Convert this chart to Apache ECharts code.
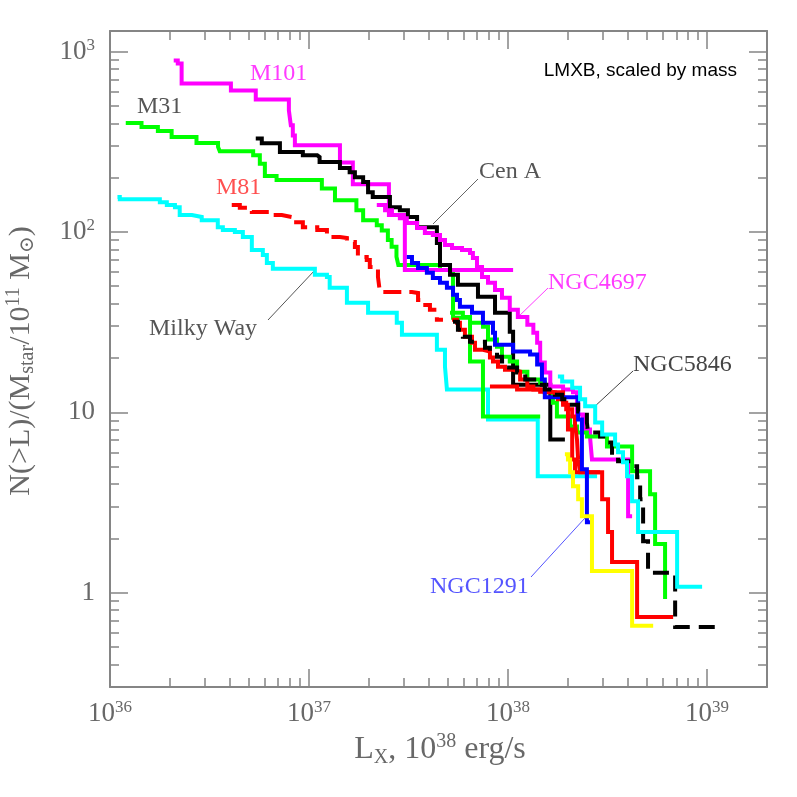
<!DOCTYPE html>
<html>
<head>
<meta charset="utf-8">
<title>LMXB luminosity functions, scaled by mass</title>
<script src="https://cdn.jsdelivr.net/npm/echarts@6/dist/echarts.min.js"></script>
<style>
  html, body { margin: 0; padding: 0; background: #fff; }
  #chart { width: 797px; height: 797px; }
</style>
</head>
<body>
<div id="chart"></div>
<script>
// cumulative LMXB luminosity functions N(>L) per 1e11 Msun
// x = L_X in erg/s, y = N(>L)/(M_star/1e11 M_sun); drawn as 'end' steps

const m101L = [2.09e36, 2.19e36, 2.29e36, 4.05e36, 5.40e36, 7.92e36, 8.10e36, 8.29e36, 8.49e36, 1.43e37, 1.66e37, 2.52e37, 3.03e37, 1.06e38]
const m101N = [891, 859, 665, 608, 543, 472, 390, 343, 302, 243, 184, 124, 61.6, 61.6]

const m31L = [1.20e36, 1.44e36, 1.74e36, 2.04e36, 2.72e36, 3.49e36, 3.56e36, 5.24e36, 5.66e36, 6.00e36, 6.87e36, 1.16e37, 1.35e37, 1.73e37, 1.87e37, 2.19e37, 2.32e37, 2.49e37, 2.60e37, 2.75e37, 2.81e37, 4.55e37, 5.29e37, 6.44e37, 7.48e37, 1.45e38]
const m31N = [402, 382, 363, 336, 311, 296, 280, 266, 239, 204, 194, 174, 150, 132, 116, 109, 102, 90.2, 82.8, 72.9, 65.6, 61.6, 33.4, 19.1, 9.48, 9.48]

const milkyWayL = [1.09e36, 1.12e36, 1.78e36, 1.93e36, 2.12e36, 2.24e36, 2.58e36, 2.89e36, 3.48e36, 3.69e36, 4.24e36, 4.65e36, 5.16e36, 5.86e36, 6.14e36, 6.58e36, 1.07e37, 1.23e37, 1.27e37, 1.55e37, 1.98e37, 2.76e37, 2.93e37, 4.39e37, 4.82e37, 4.93e37, 7.93e37, 1.41e38, 2.80e38]
const milkyWayN = [156, 152, 146, 141, 137, 124, 121, 116, 106, 102.5, 99.9, 93.7, 79.4, 74.5, 67.3, 62.4, 57.8, 56.3, 49.0, 40.5, 35.6, 31.4, 26.9, 22.2, 17.9, 13.4, 9.13, 4.42, 4.42]

const m81L = [4.09e36, 4.49e36, 5.16e36, 6.50e36, 7.30e36, 8.20e36, 9.31e36, 1.10e37, 1.23e37, 1.43e37, 1.55e37, 1.70e37, 1.76e37, 1.95e37, 2.02e37, 2.22e37, 2.27e37, 3.29e37, 3.53e37, 3.69e37, 4.05e37, 4.39e37, 4.71e37]
const m81N = [141, 136, 129, 124, 121, 113, 106, 102.5, 93.7, 92.5, 88.0, 82.5, 72.6, 69.9, 64.0, 56.3, 46.5, 45.9, 42.0, 39.4, 37.0, 32.6, 32.6]

const cenAL = [5.40e36, 5.79e36, 7.14e36, 9.31e36, 1.10e37, 1.13e37, 1.43e37, 1.60e37, 1.70e37, 1.87e37, 1.98e37, 2.09e37, 2.55e37, 2.86e37, 3.14e37, 3.49e37, 4.39e37, 4.55e37, 5.11e37, 5.60e37, 7.06e37, 8.60e37, 1.02e38, 1.06e38, 1.63e38, 1.93e38]
const cenAN = [330, 310, 277, 266, 260, 244, 226, 214, 201, 189, 166, 156, 137, 132, 121, 106, 86.8, 65.6, 57.8, 50.9, 43.7, 35.6, 28.0, 14.2, 7.07, 7.07]

const ngc4697L = [2.19e37, 2.41e37, 2.61e37, 2.86e37, 3.10e37, 3.49e37, 3.82e37, 4.19e37, 4.55e37, 4.82e37, 5.23e37, 5.87e37, 6.44e37, 6.66e37, 6.98e37, 7.40e37, 7.93e37, 8.60e37, 9.32e37, 1.02e38, 1.12e38, 1.25e38, 1.34e38, 1.40e38, 1.45e38, 1.53e38, 1.63e38, 1.89e38, 2.12e38, 2.22e38, 2.38e38, 2.58e38, 2.64e38, 4.01e38, 4.20e38]
const ngc4697N = [141, 132, 124, 119, 112, 105, 98.6, 96.1, 90.2, 84.6, 81.5, 79.4, 76.4, 71.7, 64.0, 56.3, 52.2, 47.7, 43.1, 37.0, 33.8, 30.6, 27.6, 24.3, 18.9, 16.6, 13.9, 13.4, 12.9, 9.72, 8.03, 7.35, 5.48, 2.65, 2.65]

const ngc1291L = [3.10e37, 3.29e37, 3.53e37, 3.91e37, 4.19e37, 4.55e37, 4.93e37, 5.29e37, 5.54e37, 5.73e37, 6.59e37, 7.48e37, 8.40e37, 8.60e37, 1.06e38, 1.29e38, 1.40e38, 1.48e38, 1.53e38, 2.25e38, 2.35e38, 2.49e38, 2.58e38]
const ngc1291N = [72.6, 67.3, 63.2, 59.3, 55.6, 52.2, 49.0, 44.8, 42.0, 38.5, 35.6, 31.4, 27.6, 23.7, 21.7, 20.9, 18.4, 15.2, 12.1, 9.13, 4.83, 2.46, 2.46]

const ngc5846L = [5.29e37, 5.60e37, 5.93e37, 6.44e37, 7.66e37, 8.11e37, 8.80e37, 9.32e37, 9.88e37, 1.11e38, 1.22e38, 1.40e38, 1.53e38, 1.72e38, 1.87e38, 2.00e38, 2.25e38, 2.49e38, 2.52e38, 2.90e38, 3.14e38, 3.33e38, 3.57e38, 4.20e38, 4.45e38, 4.61e38, 4.77e38, 5.05e38, 6.91e38, 1.16e39]
const ngc5846N = [31.8, 28.7, 26.2, 24.6, 22.8, 21.7, 20.3, 19.1, 17.7, 16.6, 15.2, 14.2, 13.4, 12.5, 11.8, 11.0, 10.1, 8.78, 7.73, 7.35, 6.81, 5.70, 5.35, 5.02, 4.36, 3.30, 1.93, 1.29, 0.646, 0.646]

// curves without a name label in the figure
const greenL = [5.11e37, 5.93e37, 6.44e37, 7.48e37, 7.93e37, 8.80e37, 9.32e37, 1.02e38, 1.11e38, 1.25e38, 1.45e38, 1.53e38, 1.68e38, 1.76e38, 2.05e38, 2.22e38, 2.49e38, 3.14e38, 4.20e38, 5.17e38, 5.48e38, 6.15e38]
const greenN = [35.6, 33.8, 31.4, 29.8, 25.3, 23.1, 20.3, 19.1, 16.8, 15.2, 14.6, 12.9, 11.3, 9.48, 8.35, 7.73, 7.35, 6.47, 4.71, 3.51, 1.86, 0.923]

const redL = [5.23e37, 5.54e37, 5.73e37, 6.07e37, 6.59e37, 6.82e37, 7.48e37, 8.11e37, 8.40e37, 8.90e37, 9.65e37, 1.06e38, 1.15e38, 1.25e38, 1.34e38, 1.45e38, 1.63e38, 1.72e38, 1.78e38, 1.89e38, 1.96e38, 2.10e38, 2.17e38, 2.22e38, 2.25e38, 2.30e38, 2.97e38, 3.18e38, 3.33e38, 4.45e38, 6.75e38]
const redN = [32.6, 31.4, 28.7, 26.2, 24.3, 22.2, 21.7, 20.1, 19.1, 17.9, 17.2, 16.8, 15.2, 13.9, 13.4, 13.0, 12.9, 12.5, 11.8, 11.3, 10.4, 9.48, 8.56, 7.07, 5.48, 4.65, 3.30, 2.17, 1.48, 0.734, 0.734]

const red2L = [8.11e37, 1.11e38, 1.53e38, 1.89e38, 2.00e38, 2.10e38, 2.17e38, 2.90e38]
const red2N = [13.9, 13.4, 12.9, 11.0, 8.03, 5.48, 4.65, 4.65]

const yellowL = [1.93e38, 2.00e38, 2.05e38, 2.12e38, 2.25e38, 2.35e38, 2.64e38, 4.20e38, 5.36e38]
const yellowN = [5.85, 5.48, 4.65, 3.89, 3.30, 2.65, 1.32, 0.655, 0.655]

const cyanL = [1.78e38, 1.87e38, 2.10e38, 2.30e38, 2.44e38, 2.74e38, 2.97e38, 3.45e38, 3.57e38, 3.78e38, 3.96e38, 4.20e38, 4.50e38, 7.07e38, 9.44e38]
const cyanN = [15.8, 14.8, 13.7, 11.8, 10.8, 8.78, 7.54, 6.64, 6.00, 5.28, 4.42, 3.21, 2.17, 1.08, 1.08]

// axis ranges and tick values
const xMin = 1e36, xMax = 2e39
const yMin = 0.3, yMax = 1300
const xMajor = [1e36, 1e37, 1e38, 1e39]
const yMajor = [1, 10, 100, 1000]
const xMinor = []
const yMinor = []
for (let d = 36; d <= 39; d++) {
  for (let k = 2; k <= 9; k++) {
    const v = k * Math.pow(10, d)
    if (v < xMax * 0.99) xMinor.push(v)
  }
}
for (let d = -1; d <= 2; d++) {
  for (let k = 2; k <= 9; k++) {
    const v = k * Math.pow(10, d)
    if (v > yMin * 1.05 && v < yMax) yMinor.push(v)
  }
}

const SERIF = '"Liberation Serif", "DejaVu Serif", serif'
const AXIS_GREY = '#858585'
const LABEL_GREY = '#686868'

const curves = [
  { name: 'Milky Way', L: milkyWayL, N: milkyWayN, color: '#00ffff' },
  { name: 'M31', L: m31L, N: m31N, color: '#00ff00' },
  { name: 'M81', L: m81L, N: m81N, color: '#ff0000', dash: [18, 8] },
  { name: 'M101', L: m101L, N: m101N, color: '#ff00ff' },
  { name: 'Cen A', L: cenAL, N: cenAN, color: '#000000' },
  { name: 'NGC4697', L: ngc4697L, N: ngc4697N, color: '#ff00ff' },
  { name: 'green (unlabelled)', L: greenL, N: greenN, color: '#00ff00' },
  { name: 'red (unlabelled)', L: redL, N: redN, color: '#ff0000' },
  { name: 'red 2 (unlabelled)', L: red2L, N: red2N, color: '#ff0000' },
  { name: 'NGC1291', L: ngc1291L, N: ngc1291N, color: '#0000ff' },
  { name: 'NGC5846', L: ngc5846L, N: ngc5846N, color: '#000000', dash: [16, 9] },
  { name: 'yellow (unlabelled)', L: yellowL, N: yellowN, color: '#ffff00' },
  { name: 'cyan (unlabelled)', L: cyanL, N: cyanN, color: '#00ffff' }
]

// galaxy name labels with their pointer lines (pixel layout)
const annotations = [
  { text: 'M101', x: 250, y: 74, color: '#ff3cff' },
  { text: 'M31', x: 137, y: 107, color: '#555' },
  { text: 'M81', x: 216, y: 188, color: '#ff5050' },
  { text: 'Cen A', x: 479, y: 172, color: '#555', line: [433, 224, 478, 179], lineColor: '#666' },
  { text: 'NGC4697', x: 548, y: 283, color: '#ff3cff', line: [517, 318, 548, 288], lineColor: '#ff3cff' },
  { text: 'NGC5846', x: 633, y: 365, color: '#444', line: [593, 408, 633, 371], lineColor: '#444' },
  { text: 'NGC1291', x: 430, y: 587, color: '#5555ff', line: [531, 577, 585, 518], lineColor: '#5555ff' },
  { text: 'Milky Way', x: 149, y: 329, color: '#555', line: [268, 320, 315, 270], lineColor: '#555' }
]

const supRich = {
  s: { fontSize: 17, fontFamily: SERIF, color: LABEL_GREY, verticalAlign: 'top', lineHeight: 17 }
}

function powerLabel (v) {
  const e = Math.round(Math.log10(v))
  if (e === 0) return '1'
  if (e === 1) return '10'
  return '10{s|' + e + '}'
}

function logAxis (dim, gridIndex, position, ticks, len, withLine, labels) {
  const isX = dim === 'x'
  const ax = {
    type: 'log',
    logBase: 10,
    gridIndex: gridIndex,
    position: position,
    min: isX ? xMin : yMin,
    max: isX ? xMax : yMax,
    axisLine: { show: withLine, onZero: false, lineStyle: { color: AXIS_GREY, width: 2 } },
    axisTick: { show: true, inside: true, length: len, customValues: ticks, lineStyle: { color: AXIS_GREY, width: 1.5 } },
    axisLabel: { show: false },
    splitLine: { show: false },
    minorTick: { show: false },
    minorSplitLine: { show: false }
  }
  if (labels) {
    ax.axisLabel = {
      show: true,
      customValues: isX ? xMajor : yMajor,
      formatter: powerLabel,
      fontFamily: SERIF,
      fontSize: 27,
      lineHeight: 30,
      color: LABEL_GREY,
      margin: isX ? 12 : 15,
      rich: supRich
    }
  }
  return ax
}

const chart = echarts.init(document.getElementById('chart'), null, { renderer: 'canvas' })

const gridBox = { left: 110, top: 31, right: 30, bottom: 110 }

const graphic = []
annotations.forEach(a => {
  if (a.line) {
    graphic.push({
      type: 'line',
      silent: true,
      shape: { x1: a.line[0], y1: a.line[1], x2: a.line[2], y2: a.line[3] },
      style: { stroke: a.lineColor, lineWidth: 1 }
    })
  }
  graphic.push({
    type: 'text',
    silent: true,
    x: a.x,
    y: a.y,
    style: { text: a.text, fill: a.color, fontFamily: SERIF, fontSize: 24, align: 'left', verticalAlign: 'middle' }
  })
})
// panel note
graphic.push({
  type: 'text',
  silent: true,
  x: 737,
  y: 71,
  style: { text: 'LMXB, scaled by mass', fill: '#000', fontFamily: '"Liberation Sans", Arial, sans-serif', fontSize: 19, align: 'right', verticalAlign: 'middle' }
})
// axis titles
const subSupRich = {
  b: { fontSize: 20, fontFamily: SERIF, fill: LABEL_GREY, verticalAlign: 'bottom', lineHeight: 16 },
  p: { fontSize: 20, fontFamily: SERIF, fill: LABEL_GREY, verticalAlign: 'top', lineHeight: 20 }
}
graphic.push({
  type: 'text',
  silent: true,
  x: 440,
  y: 750,
  style: {
    text: 'L{b|X}, 10{p|38} erg/s',
    fill: LABEL_GREY,
    fontFamily: SERIF,
    fontSize: 32,
    lineHeight: 36,
    align: 'center',
    verticalAlign: 'middle',
    rich: subSupRich
  }
})
graphic.push({
  type: 'text',
  silent: true,
  x: 21,
  y: 361,
  rotation: Math.PI / 2,
  style: {
    text: 'N(>L)/(M{b|star}/10{p|11} M{b|⊙})',
    fill: LABEL_GREY,
    fontFamily: SERIF,
    fontSize: 30,
    lineHeight: 34,
    align: 'center',
    verticalAlign: 'middle',
    rich: subSupRich
  }
})

const option = {
  backgroundColor: '#fff',
  animation: false,
  grid: [
    Object.assign({}, gridBox),
    Object.assign({}, gridBox)
  ],
  xAxis: [
    logAxis('x', 0, 'bottom', xMajor, 18, true, true),
    logAxis('x', 0, 'top', xMajor, 18, true, false),
    logAxis('x', 1, 'bottom', xMinor, 9, false, false),
    logAxis('x', 1, 'top', xMinor, 9, false, false)
  ],
  yAxis: [
    logAxis('y', 0, 'left', yMajor, 18, true, true),
    logAxis('y', 0, 'right', yMajor, 18, true, false),
    logAxis('y', 1, 'left', yMinor, 9, false, false),
    logAxis('y', 1, 'right', yMinor, 9, false, false)
  ],
  series: curves.map(c => ({
    name: c.name,
    type: 'line',
    step: 'end',
    xAxisIndex: 0,
    yAxisIndex: 0,
    symbol: 'none',
    silent: true,
    data: c.L.map((l, i) => [l, c.N[i]]),
    lineStyle: { color: c.color, width: 4, type: c.dash || 'solid', cap: 'butt', join: 'miter' }
  })),
  graphic: graphic
}

chart.setOption(option)
</script>
</body>
</html>
